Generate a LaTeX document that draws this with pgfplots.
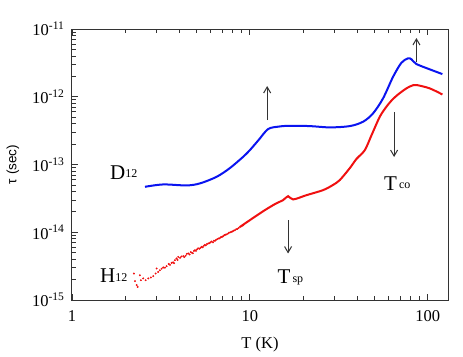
\documentclass[border=0pt]{standalone}
\usepackage{pgfplots}
\pgfplotsset{compat=1.18}
\usepackage{fontspec}
\setmainfont{Liberation Serif}
\setsansfont{Liberation Sans}
\usetikzlibrary{arrows.meta,calc}
\definecolor{CurveBlue}{HTML}{0A14F0}
\definecolor{CurveRed}{HTML}{F01010}
\definecolor{AxGray}{HTML}{333333}

\newcommand{\tl}{\fontsize{16.5}{18}\selectfont}
\newcommand{\lbl}[2]{{\fontsize{21}{24}\selectfont #1}\raisebox{1.5pt}{\fontsize{12}{14}\selectfont #2}}

\begin{document}
\begin{tikzpicture}
\begin{axis}[
  xmode=log, ymode=log,
  scale only axis, width=376pt, height=271pt,
  xmin=1, xmax=130, ymin=1e-15, ymax=1e-11,
  clip=false,
  axis line style={line width=1pt, AxGray},
  every tick/.style={AxGray, line width=0.8pt},
  major tick length=6pt, minor tick length=4pt,
  xtick={1,10,100}, xticklabels={1,10,100},
  ytick={1e-15,1e-14,1e-13,1e-12,1e-11},
  yticklabels={10\textsuperscript{-15},10\textsuperscript{-14},10\textsuperscript{-13},10\textsuperscript{-12},10\textsuperscript{-11}},
  xtick pos=both, ytick pos=left,
  tick label style={font=\tl, text=black},
  xticklabel style={yshift=-7pt},
  yticklabel style={xshift=-4pt},
  xlabel={T (K)}, xlabel style={font=\tl, at={(axis description cs:0.5,0)}, anchor=center, yshift=-45pt},
  ylabel={\sffamily τ (sec)}, ylabel style={font=\fontsize{13.5}{15}\selectfont, at={(axis description cs:-0.157,0.5)}, anchor=center},
]
% H12 noisy low-temperature points
\addplot[only marks, mark=*, mark size=0.75pt, CurveRed] coordinates {
(2.230,2.46e-15) (2.259,1.90e-15) (2.310,1.66e-15) (2.340,1.56e-15) (2.410,2.32e-15)
(2.441,1.96e-15) (2.515,2.08e-15) (2.594,1.96e-15) (2.684,2.08e-15) (2.779,2.15e-15)
(2.862,2.25e-15) (2.953,2.46e-15) (2.991,2.92e-15) (3.05,2.6e-15) (3.122,2.75e-15)
(3.19,2.9e-15) (3.259,3.02e-15) (3.33,3.0e-15) (3.404,3.16e-15) (3.5,3.4e-15)
(3.56,3.3e-15) (3.632,3.53e-15) (3.7,3.6e-15) (3.75,3.5e-15) (3.791,3.87e-15)
(3.87,4.1e-15) (3.92,3.9e-15) (3.956,4.33e-15) (4.05,4.2e-15) (4.12,4.4e-15)
(4.220,4.44e-15) (4.28,4.3e-15) (4.35,4.5e-15) (4.42,4.8e-15) (4.503,4.86e-15)
(4.58,4.7e-15) (4.65,5.1e-15) (4.72,5.0e-15) (4.78,4.9e-15) (4.85,5.3e-15)
(4.909,5.44e-15) (4.98,5.3e-15) (5.05,5.6e-15) (5.12,5.8e-15) (5.2,5.7e-15)
(5.28,5.9e-15) (5.355,6.09e-15) (5.43,6.0e-15) (5.5,6.3e-15) (5.58,6.5e-15)
(5.65,6.4e-15) (5.74,6.7e-15) (5.833,6.84e-15) (5.92,6.9e-15) (6.0,7.1e-15)
(6.1,7.3e-15) (6.2,7.1e-15) (6.28,7.5e-15) (6.360,7.47e-15) (6.45,7.7e-15)
(6.55,7.9e-15) (6.65,8.1e-15) (6.75,8.1e-15) (6.85,8.4e-15) (6.934,8.55e-15)
(7.02,8.6e-15) (7.1,8.8e-15) (7.2,9.1e-15) (7.3,9.2e-15) (7.42,9.3e-15)
(7.552,9.60e-15) (7.65,9.9e-15) (7.8,1.0e-14) (7.9,1.02e-14) (8.0,1.03e-14)
(8.12,1.06e-14) (8.236,1.07e-14) (8.37,1.11e-14) (8.5,1.12e-14) (8.65,1.16e-14)
(8.8,1.2e-14) (8.98,1.23e-14) (9.171,1.27e-14)
};
% H12 line
\addplot[CurveRed, line width=2pt, smooth] coordinates {
(8.8,1.2e-14) (10.0,1.51e-14) (12.14,2.12e-14) (14.00,2.65e-14) (15.38,2.98e-14)
(16.41,3.41e-14) (17.51,3.05e-14) (20.83,3.53e-14) (25.81,4.19e-14) (29.26,4.97e-14)
(32.03,5.89e-14) (36.47,8.85e-14) (39.77,1.21e-13) (44.28,1.63e-13) (48.46,2.76e-13)
(53.74,5.06e-13) (58.61,7.14e-13) (63.84,9.3e-13) (69.60,1.13e-12) (75.92,1.33e-12)
(81.0,1.45e-12) (86.41,1.49e-12) (102.6,1.33e-12) (120.9,1.08e-12)
};
% D12 line
\addplot[CurveBlue, line width=2pt, smooth] coordinates {
(2.571,4.69e-14) (3.259,5.08e-14) (4.410,4.91e-14) (5.237,5.26e-14) (6.500,6.58e-14)
(7.720,8.85e-14) (9.171,1.30e-13) (10.0,1.63e-13) (11.23,2.32e-13) (12.67,3.34e-13)
(14.55,3.63e-13) (16.78,3.73e-13) (21.74,3.69e-13) (28.14,3.53e-13) (36.47,3.69e-13)
(43.30,4.28e-13) (49.28,5.69e-13) (56.09,9.47e-13) (63.84,1.97e-12) (71.15,3.18e-12)
(77.49,3.69e-12) (80.99,3.57e-12) (86.41,3.04e-12) (102.6,2.54e-12) (120.9,2.16e-12)
};
% arrows
\draw[AxGray, line width=1pt, -{Straight Barb[length=6pt,width=7pt]}] (axis cs:12.51,4.53e-13) -- (axis cs:12.51,1.44e-12);
\draw[AxGray, line width=1pt, -{Straight Barb[length=6pt,width=7pt]}] (axis cs:86.4,3.26e-12) -- (axis cs:86.4,7.36e-12);
\draw[AxGray, line width=1pt, -{Straight Barb[length=6pt,width=7pt]}] (axis cs:64.7,5.94e-13) -- (axis cs:64.7,1.29e-13);
\draw[AxGray, line width=1pt, -{Straight Barb[length=6pt,width=7pt]}] (axis cs:16.4,1.51e-14) -- (axis cs:16.4,4.86e-15);
% labels
\node[anchor=base west, inner sep=0pt] at (axis cs:1.635,6.08e-14) {\lbl{D}{12}};
\node[anchor=base west, inner sep=0pt] at (axis cs:1.436,1.81e-15) {\lbl{H}{12}};
\node[anchor=base west, inner sep=0pt] at (axis cs:14.31,1.75e-15) {\lbl{T}{\,sp}};
\node[anchor=base west, inner sep=0pt] at (axis cs:56.8,4.19e-14) {\lbl{T}{\,co}};
\end{axis}
\pgfresetboundingbox
\path[use as bounding box] ($(current axis.south west)+(-72pt,-56pt)$) rectangle ($(current axis.north east)+(15pt,29pt)$);
\end{tikzpicture}
\end{document}
